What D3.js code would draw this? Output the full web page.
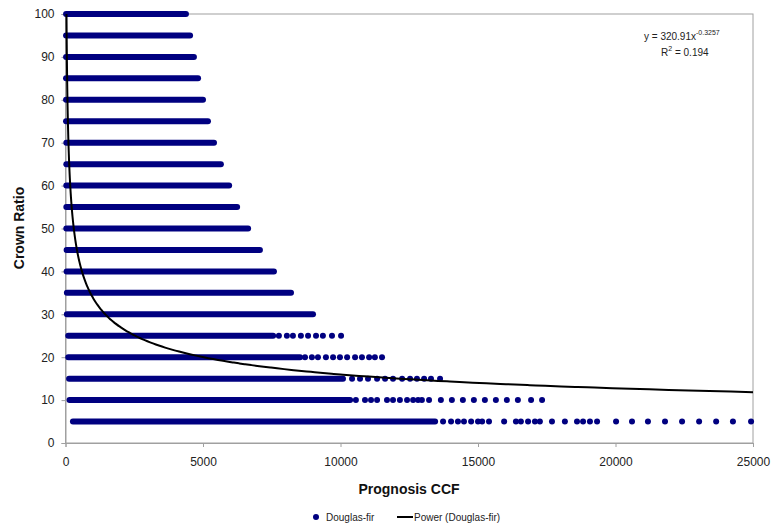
<!DOCTYPE html>
<html>
<head>
<meta charset="utf-8">
<script src="https://cdn.jsdelivr.net/npm/d3@7"></script>
<style>
  body { margin: 0; background: #fff; }
  text { font-family: "Liberation Sans", Arial, sans-serif; }
</style>
</head>
<body>
<div id="chart"></div>
<script>
// crown ratio classes and the CCF range where the dots run together
const crownRatio = [100, 95, 90, 85, 80, 75, 70, 65, 60, 55, 50, 45, 40, 35, 30, 25, 20, 15, 10, 5];
const denseStart = [20, 20, 20, 20, 20, 20, 30, 30, 30, 30, 30, 40, 40, 50, 50, 100, 100, 130, 145, 270];
const denseEnd = [4380, 4530, 4670, 4820, 5000, 5180, 5400, 5650, 5950, 6240, 6640, 7070, 7580, 8200, 9000, 7550, 8530, 10090, 10350, 13440];

// separate dots at the right end of the lower rows
const tail25 = [7760, 8050, 8270, 8560, 8820, 9110, 9360, 9690, 10020];
const tail20 = [8710, 8960, 9180, 9470, 9730, 9980, 10240, 10530, 10780, 11040, 11250, 11510];
const tail15 = [10420, 10710, 11000, 11330, 11620, 11910, 12240, 12530, 12780, 13040, 13290, 13620];
const tail10 = [10560, 10890, 11110, 11330, 11690, 11910, 12160, 12420, 12640, 12820, 12960, 13220,
                13650, 14050, 14450, 14850, 15250, 15650, 16050, 16450, 16930, 17330];
const tail5 = [13730, 14020, 14270, 14490, 14750, 15000, 15150, 15400, 15950, 16380, 16560, 16820,
               17070, 17250, 17690, 18160, 18600, 18820, 19070, 19330, 20020, 20600, 21180, 21800,
               22420, 23040, 23660, 24270, 24930];

// power trendline y = a * x^b
const trendA = 320.91;
const trendB = -0.3257;

const xTicks = [0, 5000, 10000, 15000, 20000, 25000];
const yTicks = [0, 10, 20, 30, 40, 50, 60, 70, 80, 90, 100];

const width = 773, height = 527;
const margin = { top: 14, right: 20, bottom: 84, left: 65.5 };
const innerW = 753 - margin.left;
const innerH = 443 - margin.top;

const svg = d3.select('#chart').append('svg')
  .attr('width', width)
  .attr('height', height);

const x = d3.scaleLinear().domain([0, 25000]).range([0, innerW]);
const y = d3.scaleLinear().domain([0, 100]).range([innerH, 0]);

const g = svg.append('g').attr('transform', `translate(${margin.left},${margin.top})`);

// plot frame
g.append('rect')
  .attr('x', 0).attr('y', 0)
  .attr('width', innerW).attr('height', innerH)
  .attr('fill', 'none')
  .attr('stroke', '#a0a0a0')
  .attr('stroke-width', 1);

// axes
const xAxis = g.append('g')
  .attr('transform', `translate(0,${innerH})`)
  .call(d3.axisBottom(x).tickValues(xTicks).tickSize(4).tickPadding(10).tickFormat(d3.format('d')));
const yAxis = g.append('g')
  .call(d3.axisLeft(y).tickValues(yTicks).tickSize(4).tickPadding(7));

[xAxis, yAxis].forEach(ax => {
  ax.select('.domain').attr('stroke', '#a0a0a0');
  ax.selectAll('.tick line').attr('stroke', '#a0a0a0');
  ax.selectAll('.tick text')
    .attr('fill', '#222')
    .style('font-size', '12px')
    .style('font-family', '"Liberation Sans", Arial, sans-serif');
});

const navy = '#000080';
const r = 3;

// dense parts of each row
g.append('g').selectAll('line')
  .data(crownRatio.map((cr, i) => ({ cr, x0: denseStart[i], x1: denseEnd[i] })))
  .join('line')
  .attr('x1', d => x(d.x0))
  .attr('x2', d => x(d.x1))
  .attr('y1', d => y(d.cr))
  .attr('y2', d => y(d.cr))
  .attr('stroke', navy)
  .attr('stroke-width', r * 2)
  .attr('stroke-linecap', 'round');

// single dots
const tails = [[25, tail25], [20, tail20], [15, tail15], [10, tail10], [5, tail5]];
const dots = [];
tails.forEach(([cr, xs]) => xs.forEach(v => dots.push({ cr, ccf: v })));

g.append('g').selectAll('circle')
  .data(dots)
  .join('circle')
  .attr('cx', d => x(d.ccf))
  .attr('cy', d => y(d.cr))
  .attr('r', r)
  .attr('fill', navy);

// trendline
const xStart = Math.pow(100 / trendA, 1 / trendB);
const trendX = d3.range(0, 201).map(i => xStart * Math.pow(25000 / xStart, i / 200));
const line = d3.line()
  .x(d => x(d))
  .y(d => y(trendA * Math.pow(d, trendB)))
  .curve(d3.curveMonotoneX);

g.append('path')
  .datum(trendX)
  .attr('d', line)
  .attr('fill', 'none')
  .attr('stroke', '#000')
  .attr('stroke-width', 2);

// equation
const eq = svg.append('text')
  .attr('x', 644).attr('y', 40)
  .style('font-size', '10px')
  .attr('fill', '#222');
eq.append('tspan').text('y = 320.91x');
eq.append('tspan').attr('dy', -5).style('font-size', '7px').text('-0.3257');

const r2 = svg.append('text')
  .attr('x', 661).attr('y', 56)
  .style('font-size', '10px')
  .attr('fill', '#222');
r2.append('tspan').text('R');
r2.append('tspan').attr('dy', -5).style('font-size', '7px').text('2');
r2.append('tspan').attr('dy', 5).text(' = 0.194');

// axis titles
svg.append('text')
  .attr('x', 409).attr('y', 494)
  .attr('text-anchor', 'middle')
  .style('font-size', '14px')
  .style('font-weight', 'bold')
  .attr('fill', '#111')
  .text('Prognosis CCF');

svg.append('text')
  .attr('transform', 'translate(24,228) rotate(-90)')
  .attr('text-anchor', 'middle')
  .style('font-size', '14px')
  .style('font-weight', 'bold')
  .attr('fill', '#111')
  .text('Crown Ratio');

// legend
const legend = svg.append('g');
legend.append('circle').attr('cx', 316).attr('cy', 517).attr('r', 3).attr('fill', navy);
legend.append('text').attr('x', 326).attr('y', 521)
  .style('font-size', '10px').attr('fill', '#222').text('Douglas-fir');
legend.append('line').attr('x1', 397).attr('x2', 413).attr('y1', 517).attr('y2', 517)
  .attr('stroke', '#000').attr('stroke-width', 2);
legend.append('text').attr('x', 414).attr('y', 521)
  .style('font-size', '10px').attr('fill', '#222').text('Power (Douglas-fir)');
</script>
</body>
</html>
